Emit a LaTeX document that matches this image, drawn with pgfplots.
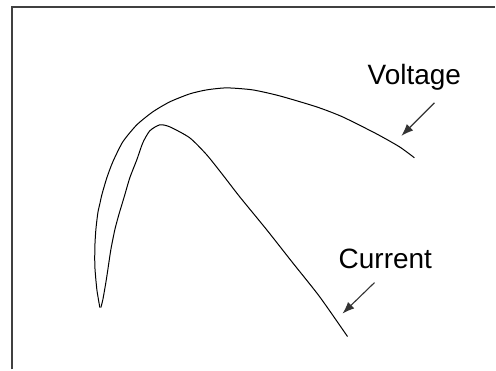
\documentclass[border=0pt]{standalone}
\usepackage{pgfplots}
\pgfplotsset{compat=1.18}
\usepackage{fontspec}
\setmainfont{Liberation Sans}
\usetikzlibrary{arrows.meta}
\begin{document}
\begin{tikzpicture}
\begin{axis}[width=496pt,height=370pt,scale only axis,
  xmin=0,xmax=496,ymin=0,ymax=370,y dir=reverse,
  hide axis,clip=false]
% bounding box
\path (axis cs:0,0) rectangle (axis cs:496,370);
% frame (left and top edges)
\addplot[draw=black!75,line width=1.4pt] coordinates {(12,370)(12,7)(496,7)};
% Voltage
\addplot[black,line width=1pt,smooth,tension=0.4] coordinates {
(100,308)(97,290)(95,267)(95,247)(96,230)(98,213)(100,204)(102,195)(107,178)
(113,162)(123,142)(137,125)(153,112)(170,102)(190,94)
(207,90)(227,88)(253,90)(280,96)(317,107)(343,117)(377,134)(400,147)(415,158)};
% Current
\addplot[black,line width=1pt,smooth,tension=0.4] coordinates {
(101,308)(103,300)(106,283)(108,270)(111,250)(115,230)(119,215)(122,205)
(125,195)(130,178)(137,160)(143,143)(150,131)(160,125)(170,127)
(190,138)(207,155)(223,175)(240,197)(267,230)(293,263)(320,297)(348,337)};
% arrows
\addplot[black!80,line width=1.1pt,-{Latex[length=12pt,width=9pt]}] coordinates {(435,103)(402,136)};
\addplot[black!80,line width=1.1pt,-{Latex[length=12pt,width=9pt]}] coordinates {(375,283)(343,314)};
\node[anchor=base west,inner sep=0pt,font=\fontsize{28}{30}\selectfont] at (axis cs:368,85) {Voltage};
\node[anchor=base west,inner sep=0pt,font=\fontsize{28}{30}\selectfont] at (axis cs:339,269) {Current};
\end{axis}
\end{tikzpicture}
\end{document}
